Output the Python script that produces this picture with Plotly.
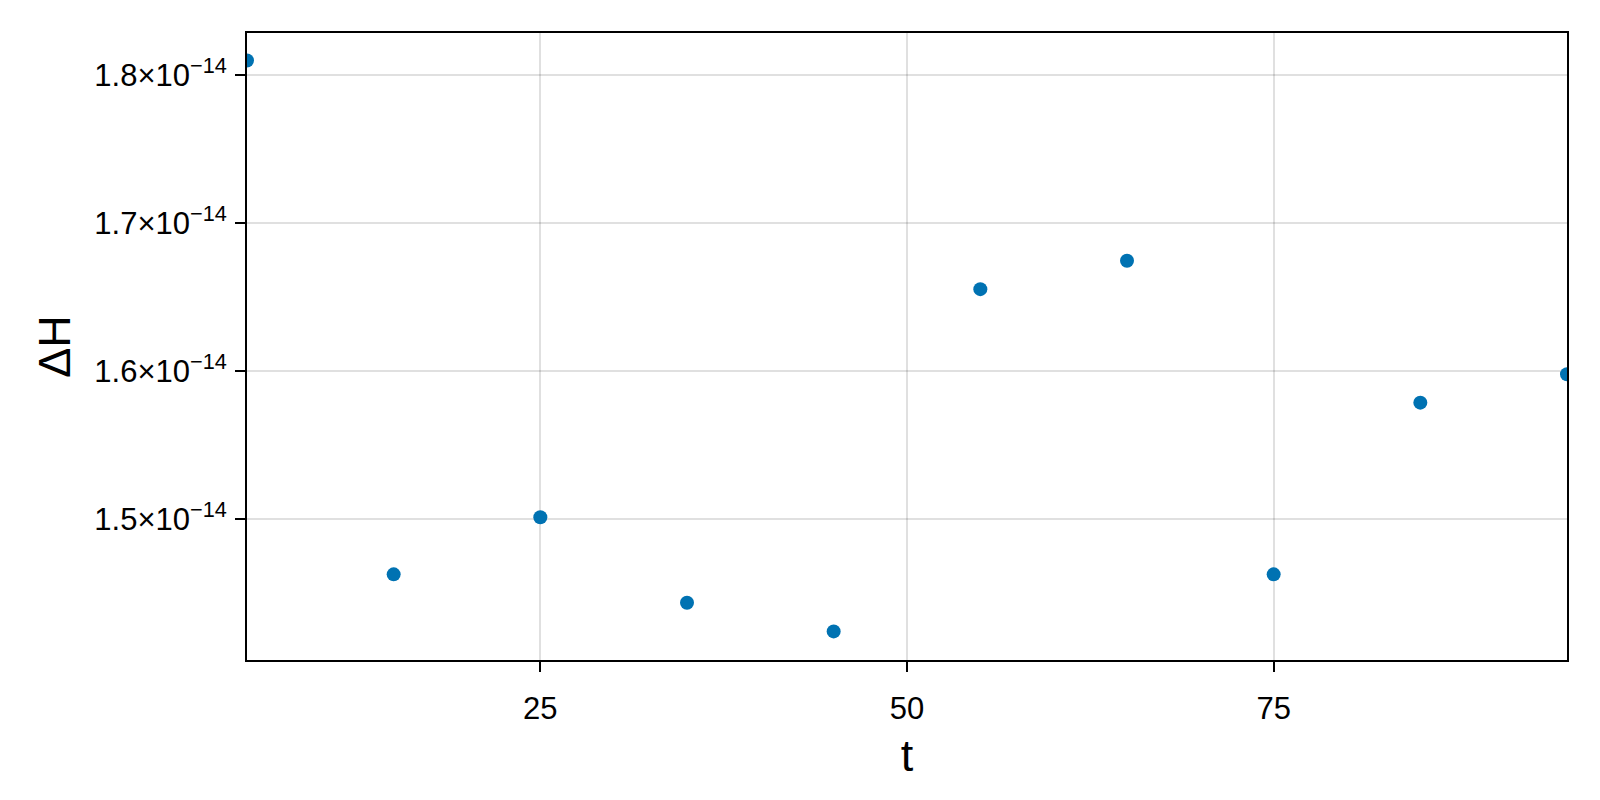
import plotly.graph_objects as go

t = [5, 15, 25, 35, 45, 55, 65, 75, 85, 95]
dH = [1.8096e-14, 1.4628e-14, 1.5014e-14, 1.4436e-14, 1.4243e-14,
      1.6553e-14, 1.6745e-14, 1.4628e-14, 1.5787e-14, 1.5979e-14]

x_ticks = [25, 50, 75]
y_ticks = [1.5e-14, 1.6e-14, 1.7e-14, 1.8e-14]
y_labels = ["1.5×10<sup>−14</sup>", "1.6×10<sup>−14</sup>",
            "1.7×10<sup>−14</sup>", "1.8×10<sup>−14</sup>"]

fig = go.Figure()
fig.add_trace(go.Scatter(
    x=t, y=dH, mode="markers",
    marker=dict(color="#0072B2", size=14),
    cliponaxis=True, showlegend=False,
))

axis_style = dict(
    showline=True, linecolor="black", linewidth=2, mirror=True,
    ticks="outside", ticklen=10, tickwidth=2, tickcolor="black",
    showgrid=True, gridcolor="rgba(0,0,0,0.12)", gridwidth=1.5,
    zeroline=False,
    tickfont=dict(size=31, color="black"),
)

fig.update_xaxes(
    range=[5, 95], tickvals=x_ticks, ticklabelstandoff=10,
    title=dict(text="t", font=dict(size=45, color="black"), standoff=14),
    **axis_style,
)
fig.update_yaxes(
    range=[1.4050e-14, 1.8282e-14], tickvals=y_ticks, ticktext=y_labels,
    ticklabelstandoff=2,
    title=dict(text="ΔH", font=dict(size=45, color="black"), standoff=10),
    **axis_style,
)

# body has an 8px margin, figure sized so the page fits the window
fig.update_layout(
    width=1592, height=792,
    plot_bgcolor="white", paper_bgcolor="white",
    font=dict(family="Liberation Sans, Arial, sans-serif", color="black"),
    margin=dict(l=239, r=33, t=25, b=140),
)

fig.write_html("out.html")
